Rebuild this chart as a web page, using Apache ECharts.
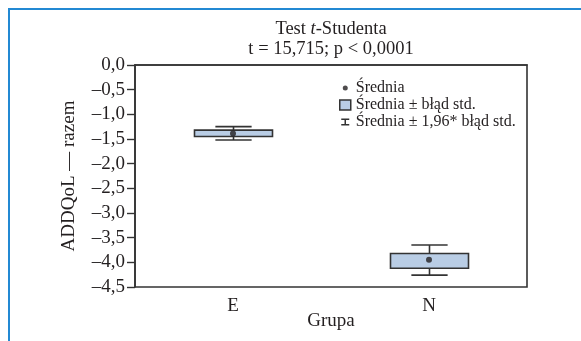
<!DOCTYPE html>
<html>
<head>
<meta charset="utf-8">
<script src="https://cdn.jsdelivr.net/npm/echarts@6/dist/echarts.min.js"></script>
<style>
html,body{margin:0;padding:0;background:#fff;}
#chart{width:581px;height:341px;}
</style>
</head>
<body>
<div id="chart"></div>
<script>
// ---- data ----
const categories = ['E', 'N'];
const means = [-1.39, -3.95];
const seLower = [-1.45, -4.12];
const seUpper = [-1.32, -3.82];
const ciLower = [-1.52, -4.26];
const ciUpper = [-1.25, -3.65];
const titleLines = ['Test {i|t}-Studenta', 't = 15,715; p < 0,0001'];
const legendNames = ['Średnia', 'Średnia ± błąd std.', 'Średnia ± 1,96* błąd std.'];

const FONT = '"Liberation Serif", "DejaVu Serif", serif';
const INK = '#231f20';
const LINE = '#333333';
const BOXFILL = '#b9cde5';

const chart = echarts.init(document.getElementById('chart'), null, {renderer: 'canvas'});

const boxData = categories.map((c, i) => [i, seLower[i], seUpper[i]]);
const whiskerData = categories.map((c, i) => [i, ciLower[i], ciUpper[i]]);
const meanData = categories.map((c, i) => [i, means[i]]);

function renderBox(params, api) {
  const x = api.coord([api.value(0), 0])[0];
  const yLo = api.coord([api.value(0), api.value(1)])[1];
  const yHi = api.coord([api.value(0), api.value(2)])[1];
  const w = api.size([1, 0])[0] * 0.4;
  return {
    type: 'rect',
    shape: {x: Math.round(x - w / 2) + 0.5, y: yHi, width: Math.round(w), height: yLo - yHi},
    style: {fill: BOXFILL, stroke: LINE, lineWidth: 1.6}
  };
}
function renderWhisker(params, api) {
  const x = Math.round(api.coord([api.value(0), 0])[0]) + 0.5;
  const yLo = api.coord([api.value(0), api.value(1)])[1];
  const yHi = api.coord([api.value(0), api.value(2)])[1];
  const w = api.size([1, 0])[0] * 0.185;
  const st = {stroke: LINE, lineWidth: 1.6};
  return {
    type: 'group',
    children: [
      {type: 'line', shape: {x1: x, y1: yLo, x2: x, y2: yHi}, style: st},
      {type: 'line', shape: {x1: x - w / 2, y1: yLo, x2: x + w / 2, y2: yLo}, style: st},
      {type: 'line', shape: {x1: x - w / 2, y1: yHi, x2: x + w / 2, y2: yHi}, style: st}
    ]
  };
}

const fmt = v => {
  const s = Math.abs(v).toFixed(1).replace('.', ',');
  return (v < 0 ? '\u2013' : '') + s;
};

chart.setOption({
  animation: false,
  backgroundColor: '#fff',
  graphic: [{
    type: 'rect', z: -10, silent: true,
    shape: {x: 9, y: 9, width: 800, height: 600},
    style: {fill: 'none', stroke: '#2389d3', lineWidth: 2}
  }],
  title: {
    text: titleLines.join('\n'),
    left: 331, top: 19, textAlign: 'center',
    padding: 0,
    textStyle: {
      fontFamily: FONT, fontSize: 18.5, fontWeight: 'normal', color: INK, lineHeight: 20,
      rich: {i: {fontFamily: FONT, fontSize: 18.5, fontStyle: 'italic', color: INK, lineHeight: 20}}
    }
  },
  legend: {
    orient: 'vertical',
    left: 339, top: 80, padding: 0,
    itemWidth: 11, itemHeight: 10, itemGap: 1,
    textStyle: {fontFamily: FONT, fontSize: 16, color: INK, padding: [0, 0, 0, 0]},
    data: [
      {name: legendNames[0], icon: 'path://M0 0M11 10M3 5a2.5 2.5 0 1 0 5 0a2.5 2.5 0 1 0 -5 0z',
       itemStyle: {color: INK, borderWidth: 0}},
      {name: legendNames[1], icon: 'rect',
       itemStyle: {color: BOXFILL, borderColor: LINE, borderWidth: 1.5}},
      {name: legendNames[2], icon: 'path://M0 0M11 10M1.5 1.5H9.5V3H6.25V7H9.5V8.5H1.5V7H4.75V3H1.5Z',
       itemStyle: {color: LINE, borderWidth: 0}}
    ]
  },
  grid: {
    left: 135, top: 65, width: 392, height: 222,
    containLabel: false, outerBoundsMode: 'none',
    show: true, borderColor: LINE, borderWidth: 1.6, backgroundColor: 'transparent'
  },
  xAxis: {
    type: 'category', data: categories, boundaryGap: true,
    name: 'Grupa', nameLocation: 'middle', nameGap: 25, nameMoveOverlap: false,
    nameTextStyle: {fontFamily: FONT, fontSize: 19, color: INK},
    axisLine: {lineStyle: {color: LINE, width: 1.6}},
    axisTick: {alignWithLabel: true, length: 7, lineStyle: {color: LINE, width: 1.4}},
    axisLabel: {fontFamily: FONT, fontSize: 19, color: INK, margin: 10},
    splitLine: {show: false}
  },
  yAxis: {
    type: 'value', min: -4.5, max: 0, interval: 0.5,
    name: 'ADDQoL \u2014 razem', nameLocation: 'middle', nameGap: 56, nameRotate: 90, nameMoveOverlap: false,
    nameTextStyle: {fontFamily: FONT, fontSize: 19, color: INK},
    axisLine: {show: true, lineStyle: {color: LINE, width: 1.6}},
    axisTick: {show: true, length: 8, lineStyle: {color: LINE, width: 1.4}},
    axisLabel: {fontFamily: FONT, fontSize: 19, color: INK, margin: 10, formatter: fmt},
    splitLine: {show: false}
  },
  series: [
    {name: legendNames[2], type: 'custom', renderItem: renderWhisker, data: whiskerData, z: 2,
     itemStyle: {color: LINE}, encode: {x: 0, y: [1, 2]}},
    {name: legendNames[1], type: 'custom', renderItem: renderBox, data: boxData, z: 3,
     itemStyle: {color: BOXFILL}, encode: {x: 0, y: [1, 2]}},
    {name: legendNames[0], type: 'scatter', data: meanData, symbol: 'circle', symbolSize: 6, z: 4,
     itemStyle: {color: INK}}
  ]
});
</script>
</body>
</html>
